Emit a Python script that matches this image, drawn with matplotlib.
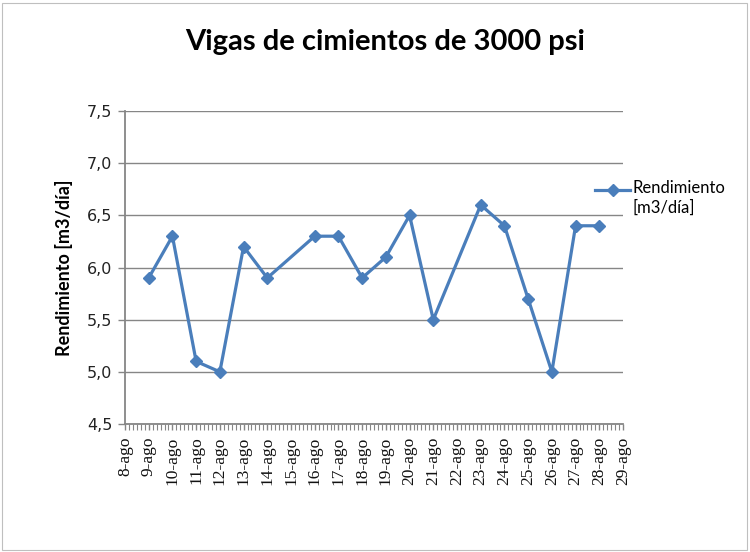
import matplotlib
matplotlib.use("Agg")
import matplotlib.pyplot as plt
import matplotlib.dates as mdates
from matplotlib.patches import Rectangle
from matplotlib.lines import Line2D
import datetime as dt

# Data
days = [9, 10, 11, 12, 13, 14, 16, 17, 18, 19, 20, 21, 23, 24, 25, 26, 27, 28]
values = [5.9, 6.3, 5.1, 5.0, 6.2, 5.9, 6.3, 6.3, 5.9, 6.1, 6.5, 5.5, 6.6, 6.4, 5.7, 5.0, 6.4, 6.4]
tick_days = list(range(8, 30))
tick_labels = [f"{d}-ago" for d in tick_days]
series_name = "Rendimiento\n[m3/día]"
title = "Vigas de cimientos de 3000 psi"
ylabel = "Rendimiento [m3/día]"
yticks = [4.5, 5.0, 5.5, 6.0, 6.5, 7.0, 7.5]

dates = [dt.datetime(2010, 8, d) for d in days]
tick_dates = [dt.datetime(2010, 8, d) for d in tick_days]

W, H = 750, 552
fig = plt.figure(figsize=(W / 100, H / 100), dpi=100)
fig.patch.set_facecolor("white")
fig.add_artist(Rectangle((2 / W, 2 / H), (W - 5) / W, (H - 5) / H, transform=fig.transFigure,
                         fill=False, edgecolor="#bfbfbf", linewidth=0.8))

left, right, top, bottom = 125, 623, 111, 424
ax = fig.add_axes([left / W, 1 - bottom / H, (right - left) / W, (bottom - top) / H])

color = "#4A7EBB"
ax.plot(dates, values, color=color, linewidth=2.3, marker="D", markersize=6.5,
        markeredgecolor=color, markerfacecolor=color, label=series_name)

ax.set_xlim(dt.datetime(2010, 8, 8), dt.datetime(2010, 8, 29))
ax.set_ylim(4.5, 7.5)
ax.set_yticks(yticks)
ax.set_yticklabels([f"{v:.1f}".replace(".", ",") for v in yticks],
                   fontsize=11.5, family="DejaVu Sans", color="#222222")
ax.set_xticks(tick_dates)
ax.set_xticklabels(tick_labels, rotation=90, fontsize=12.5, family="Liberation Serif", color="#111111")
ax.xaxis.set_minor_locator(mdates.HourLocator(byhour=[4, 8, 12, 16, 20]))

ax.grid(axis="y", color="#868686", linewidth=1.0)
ax.set_axisbelow(True)
for s in ["top", "right"]:
    ax.spines[s].set_visible(False)
for s in ["left", "bottom"]:
    ax.spines[s].set_color("#868686")
    ax.spines[s].set_linewidth(1.3)
ax.tick_params(axis="y", length=5, color="#868686", width=1.0, pad=4)
ax.tick_params(axis="x", which="major", length=4, color="#868686", width=1.0, pad=5, direction="out")
ax.tick_params(axis="x", which="minor", length=4, color="#868686", width=0.8, direction="out")

ax.set_ylabel(ylabel, fontsize=13, fontweight="bold", family="Lato", labelpad=10)

fig.text(0.5 + 10 / W, 1 - 42 / H, title, ha="center", va="center", fontsize=21,
         family="Lato", fontweight="bold")

# Legend (drawn manually so the marker aligns with the first text line)
ly = 1 - 190 / H
fig.add_artist(Line2D([595 / W, 613 / W, 630 / W], [ly, ly, ly], transform=fig.transFigure,
                      color=color, linewidth=2.3, marker="D", markersize=6.5,
                      markevery=[1], markerfacecolor=color, markeredgecolor=color))
fig.text(633 / W, 1 - 180 / H, series_name, ha="left", va="top", fontsize=12,
         family="Lato", linespacing=1.3, color="black")

fig.savefig("out.png", dpi=100)
